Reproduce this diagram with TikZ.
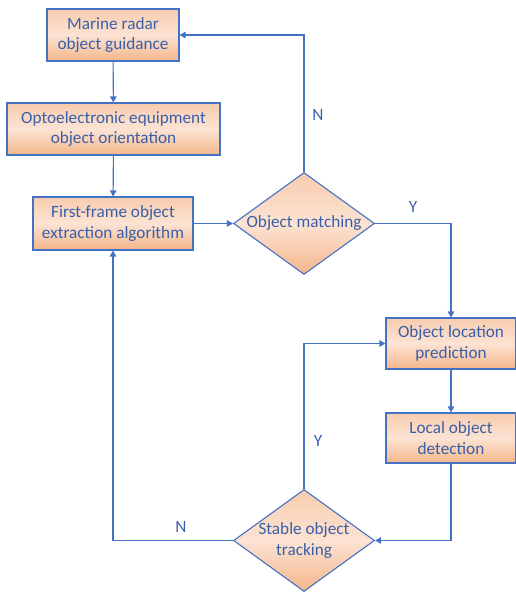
\documentclass[tikz,border=0pt]{standalone}
\usepackage{fontspec}
\setmainfont{Carlito}
\usetikzlibrary{shapes.geometric,arrows.meta}
\definecolor{lineblue}{HTML}{4472C4}
\definecolor{textblue}{HTML}{3A5FAA}
\definecolor{peachtop}{HTML}{F8CCAE}
\definecolor{peachmid}{HTML}{FCE3D3}
\definecolor{peachbot}{HTML}{F4B68B}
\tikzset{
  stepbox/.style={rectangle, draw=lineblue, line width=1.1pt, top color=peachtop, bottom color=peachbot, middle color=peachmid, inner sep=0pt, align=center, text=textblue, font=\fontsize{17.2}{20.5}\selectfont},
  decision/.style={diamond, draw=lineblue, line width=1.1pt, top color=peachtop, bottom color=peachbot, middle color=peachmid, inner sep=0pt, minimum width=141pt, minimum height=102pt},
  dtext/.style={align=center, text=textblue, font=\fontsize{17.2}{20.5}\selectfont},
  flow/.style={draw=lineblue, line width=1.1pt, -{Triangle[width=6.5pt,length=6pt]}},
  lab/.style={text=textblue, font=\fontsize{17.2}{20.5}\selectfont}
}
\begin{document}
\begin{tikzpicture}[x=1pt,y=-1pt]
\useasboundingbox (0,0) rectangle (515,592);
\node[stepbox, minimum width=132pt, minimum height=52pt] (b1) at (113,35) {Marine radar\\object guidance};
\node[stepbox, minimum width=213pt, minimum height=52pt] (b2) at (113.5,129) {Optoelectronic equipment\\object orientation};
\node[stepbox, minimum width=160pt, minimum height=53pt] (b3) at (113,223.5) {First-frame object\\extraction algorithm};
\node[stepbox, minimum width=130pt, minimum height=51pt] (b4) at (451,343.5) {Object location\\prediction};
\node[stepbox, minimum width=130pt, minimum height=50pt] (b5) at (451,438) {Local object\\detection};
\node[decision, label={[dtext]center:Object matching}] (d1) at (304,223.5) {};
\node[decision, label={[dtext]center:Stable object\\tracking}] (d2) at (304,540.5) {};
\draw[flow] (b1) -- (b2);
\draw[flow] (b2) -- (b3);
\draw[flow] (b3.east) -- (d1.west);
\draw[flow] (d1.north) |- (b1.east);
\draw[flow] (d1.east) -| (b4.north);
\draw[flow] (b4) -- (b5);
\draw[flow] (b5.south) |- (d2.east);
\draw[flow] (d2.north) |- (b4.west);
\draw[flow] (d2.west) -| (b3.south);
\node[lab] (n1) at (318,115) {N};
\node[lab] (y1) at (413,207) {Y};
\node[lab] (y2) at (318,441) {Y};
\node[lab] (n2) at (181,527) {N};
\end{tikzpicture}
\end{document}
